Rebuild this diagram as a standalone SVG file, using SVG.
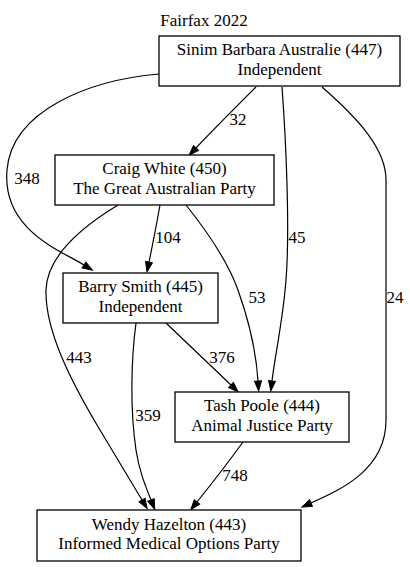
<svg xmlns="http://www.w3.org/2000/svg" width="410" height="567" viewBox="0 0 410 567">
<style>
.box{fill:#fff;stroke:#000;stroke-width:1.3}
.edge{fill:none;stroke:#000;stroke-width:1.2}
</style>
<defs>
<marker id="ah" markerUnits="userSpaceOnUse" markerWidth="11" markerHeight="8" refX="0" refY="3.5" orient="auto" overflow="visible">
<path d="M0,0 L10,3.5 L0,7 z" fill="#000" stroke="#000" stroke-width="1"/>
</marker>
</defs>
<rect width="410" height="567" fill="#fff"/>
<g font-family="Liberation Serif" font-size="17" text-anchor="middle" fill="#000">
<text x="204" y="25.5">Fairfax 2022</text>
<g id="edges">
<path class="edge" marker-end="url(#ah)" d="M256,87 C236,107 213,130 196,148"/>
<path class="edge" marker-end="url(#ah)" d="M159,74 C90,80 12,110 7,170 C2,230 60,250 84,265"/>
<path class="edge" marker-end="url(#ah)" d="M282,87 C286,140 290,230 286,280 C283,320 275,355 272,381"/>
<path class="edge" marker-end="url(#ah)" d="M322,87 C360,120 386,150 386,180 L386,420 C386,470 340,490 311,503"/>
<path class="edge" marker-end="url(#ah)" d="M160,205 C157,222 153,243 149,262"/>
<path class="edge" marker-end="url(#ah)" d="M186,205 C210,235 228,262 238,290 C248,318 256,350 258,381"/>
<path class="edge" marker-end="url(#ah)" d="M118,205 C85,225 47,255 46,290 C45,330 70,380 100,430 C115,455 130,480 142,500"/>
<path class="edge" marker-end="url(#ah)" d="M166,323 C185,341 210,365 231,385"/>
<path class="edge" marker-end="url(#ah)" d="M136,323 C131,360 130,410 136,450 C139,470 145,485 151,500"/>
<path class="edge" marker-end="url(#ah)" d="M243,442 C230,460 213,482 197,502"/>
<text x="238" y="125">32</text>
<text x="27" y="184">348</text>
<text x="297" y="243">45</text>
<text x="168" y="243">104</text>
<text x="395" y="303">24</text>
<text x="257" y="303">53</text>
<text x="79" y="363">443</text>
<text x="222" y="363">376</text>
<text x="148" y="421">359</text>
<text x="235" y="481">748</text>
</g>
<g id="sinim">
<rect class="box" x="159" y="36" width="241" height="50"/>
<text x="279.5" y="55">Sinim Barbara Australie (447)</text>
<text x="279.5" y="74.5">Independent</text>
</g>
<g id="craig">
<rect class="box" x="55" y="155" width="219" height="50"/>
<text x="164.5" y="174">Craig White (450)</text>
<text x="164.5" y="193.5">The Great Australian Party</text>
</g>
<g id="barry">
<rect class="box" x="63" y="273" width="155" height="50"/>
<text x="140.5" y="292">Barry Smith (445)</text>
<text x="140.5" y="311.5">Independent</text>
</g>
<g id="tash">
<rect class="box" x="175" y="392" width="174" height="50"/>
<text x="262" y="411">Tash Poole (444)</text>
<text x="262" y="430.5">Animal Justice Party</text>
</g>
<g id="wendy">
<rect class="box" x="37" y="510" width="264" height="51"/>
<text x="169" y="529.5">Wendy Hazelton (443)</text>
<text x="169" y="549">Informed Medical Options Party</text>
</g>
</g>
</svg>
